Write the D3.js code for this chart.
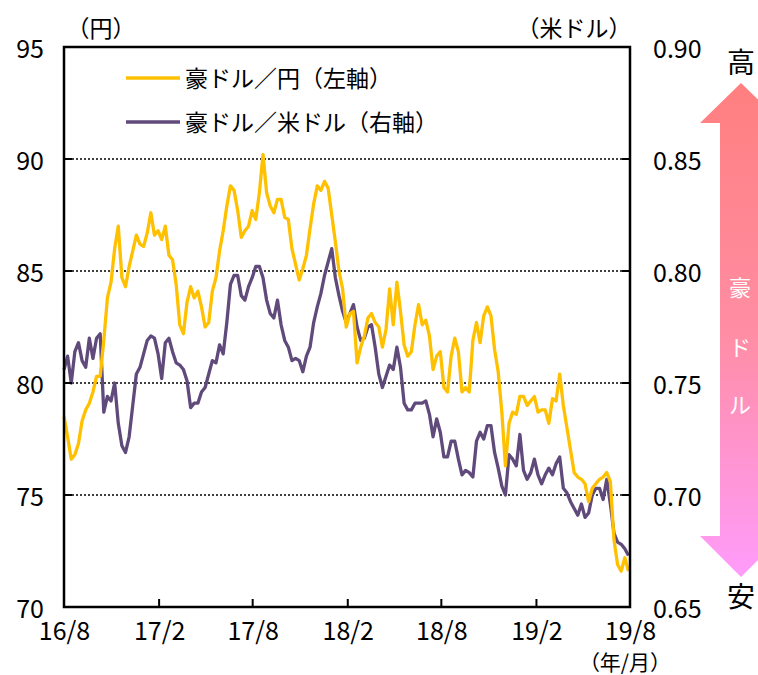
<!DOCTYPE html>
<html><head><meta charset="utf-8">
<script src="https://cdn.jsdelivr.net/npm/d3@7"></script>
<style>
body{margin:0;background:#fff;}
svg text{font-family:"Noto Sans CJK JP","Noto Sans",sans-serif;fill:#000;}
</style></head>
<body><svg id="c" width="758" height="675"></svg>
<script>
// weekly observations starting 2016-08-01
const startDate = "2016-08-01";
const audJpy = [78.5,77.6,76.6,76.8,77.3,78.3,78.8,79.1,79.6,80.3,
80.3,81.9,83.8,84.5,86.0,87.0,84.7,84.3,85.2,85.9,
86.6,86.2,86.1,86.7,87.6,86.6,86.8,86.4,87.0,85.7,
85.5,84.4,82.6,82.2,83.6,84.3,83.8,84.1,83.4,82.5,
82.7,84.1,84.7,85.9,86.8,87.9,88.8,88.6,87.7,86.5,
86.8,87.0,87.7,87.3,88.5,90.2,88.5,87.9,87.6,88.2,
88.2,87.4,87.3,86.0,85.3,84.6,85.1,85.7,86.9,88.0,
88.8,88.6,89.0,88.7,87.5,86.3,85.0,84.2,82.5,83.1,
83.2,80.9,81.6,82.1,82.9,83.1,82.7,82.5,81.6,82.4,
84.2,82.6,84.5,83.2,81.7,81.2,81.4,82.6,83.5,82.6,
82.8,82.1,80.6,81.2,81.4,79.8,79.6,81.2,82.0,81.4,
79.6,79.8,79.6,81.9,82.7,81.8,83.0,83.4,83.0,81.5,
80.5,78.7,76.3,78.2,78.7,78.6,79.4,79.4,79.0,79.2,
79.4,78.7,78.8,78.8,78.2,79.3,79.2,80.4,79.0,78.0,
77.0,76.0,75.8,75.7,75.5,74.7,75.3,75.5,75.7,75.8,
76.0,75.6,73.0,71.9,71.6,72.2,71.6];
const audUsd = [0.756,0.762,0.750,0.764,0.768,0.760,0.757,0.770,0.761,0.770,
0.772,0.737,0.744,0.742,0.750,0.732,0.722,0.719,0.726,0.740,
0.754,0.757,0.763,0.769,0.771,0.770,0.763,0.752,0.768,0.770,
0.764,0.759,0.758,0.756,0.751,0.739,0.741,0.741,0.746,0.748,
0.754,0.760,0.759,0.767,0.763,0.777,0.794,0.798,0.798,0.789,
0.787,0.793,0.797,0.802,0.802,0.797,0.787,0.781,0.779,0.787,
0.776,0.769,0.766,0.760,0.761,0.760,0.755,0.762,0.766,0.777,
0.784,0.790,0.798,0.804,0.810,0.797,0.789,0.782,0.777,0.781,
0.785,0.775,0.769,0.770,0.775,0.776,0.766,0.754,0.748,0.753,
0.758,0.756,0.766,0.757,0.741,0.738,0.738,0.741,0.741,0.741,
0.742,0.736,0.726,0.734,0.728,0.717,0.717,0.724,0.724,0.716,
0.709,0.711,0.710,0.708,0.724,0.728,0.725,0.731,0.731,0.719,
0.712,0.704,0.700,0.718,0.716,0.713,0.727,0.711,0.707,0.710,
0.716,0.709,0.705,0.709,0.712,0.709,0.714,0.717,0.703,0.701,
0.697,0.694,0.691,0.696,0.690,0.692,0.700,0.703,0.703,0.698,
0.707,0.696,0.683,0.679,0.678,0.676,0.673];
const xTickDates = ["2016-08-01","2017-02-01","2017-08-01","2018-02-01","2018-08-01","2019-02-01","2019-08-01"];
const leftTicks = [70,75,80,85,90,95];
const rightTicks = [0.65,0.70,0.75,0.80,0.85,0.90];
const gridTicks = [75,80,85,90];
const seriesNames = ["豪ドル／円（左軸）","豪ドル／米ドル（右軸）"];
const seriesColors = ["#FFC000","#604A7B"];
const arrowText = ["豪","ド","ル"];

const parse = d3.utcParse("%Y-%m-%d");
const t0 = parse(startDate);
const dates = audJpy.map((_, i) => d3.utcDay.offset(t0, 7 * i));

const L = 64, R = 630, T = 47, B = 607;
const svg = d3.select("#c");
const x = d3.scaleUtc().domain([parse(xTickDates[0]), parse(xTickDates[xTickDates.length-1])]).range([L, R]);
const yL = d3.scaleLinear().domain([70, 95]).range([B, T]);
const yR = d3.scaleLinear().domain([0.65, 0.90]).range([B, T]);

// gridlines
svg.append("g").selectAll("line").data(gridTicks).join("line")
  .attr("x1", L).attr("x2", R).attr("y1", d => yL(d)).attr("y2", d => yL(d))
  .attr("stroke", "#000").attr("stroke-width", 1.3).attr("stroke-dasharray", "2,2");

// lines
const lineJ = d3.line().x((d, i) => x(dates[i])).y(d => yL(d));
const lineU = d3.line().x((d, i) => x(dates[i])).y(d => yR(d));
svg.append("path").datum(audUsd).attr("d", lineU).attr("fill", "none")
  .attr("stroke", seriesColors[1]).attr("stroke-width", 3.3).attr("stroke-linejoin", "round");
svg.append("path").datum(audJpy).attr("d", lineJ).attr("fill", "none")
  .attr("stroke", seriesColors[0]).attr("stroke-width", 3.3).attr("stroke-linejoin", "round");

// frame
svg.append("rect").attr("x", L).attr("y", T).attr("width", R - L).attr("height", B - T)
  .attr("fill", "none").attr("stroke", "#000").attr("stroke-width", 2.5);

// inward ticks
svg.append("g").selectAll("line").data(leftTicks).join("line")
  .attr("x1", L).attr("x2", L + 8).attr("y1", d => yL(d)).attr("y2", d => yL(d))
  .attr("stroke", "#000").attr("stroke-width", 2);
svg.append("g").selectAll("line").data(rightTicks).join("line")
  .attr("x1", R - 8).attr("x2", R).attr("y1", d => yR(d)).attr("y2", d => yR(d))
  .attr("stroke", "#000").attr("stroke-width", 2);
svg.append("g").selectAll("line").data(xTickDates.map(parse)).join("line")
  .attr("x1", d => x(d)).attr("x2", d => x(d)).attr("y1", B).attr("y2", B - 8)
  .attr("stroke", "#000").attr("stroke-width", 2);

// axes labels
const axL = svg.append("g").attr("transform", `translate(${L},0)`)
  .call(d3.axisLeft(yL).tickValues(leftTicks).tickSize(0).tickPadding(20));
const axR = svg.append("g").attr("transform", `translate(${R},0)`)
  .call(d3.axisRight(yR).tickValues(rightTicks).tickFormat(d3.format(".2f")).tickSize(0).tickPadding(23));
const axB = svg.append("g").attr("transform", `translate(0,${B})`)
  .call(d3.axisBottom(x).tickValues(xTickDates.map(parse)).tickFormat(d3.utcFormat("%y/%-m")).tickSize(0).tickPadding(15));
[axL, axR, axB].forEach(a => {
  a.select(".domain").remove();
  a.selectAll("text").style("font-size", "25px").attr("fill", "#000");
});
axL.selectAll("text").attr("dy", "0.42em");
axR.selectAll("text").attr("dy", "0.42em");

// unit labels
svg.append("text").attr("x", 101).attr("y", 37).attr("text-anchor", "middle").style("font-size", "23px").text("（円）");
svg.append("text").attr("x", 574).attr("y", 37).attr("text-anchor", "middle").style("font-size", "23px").text("（米ドル）");
svg.append("text").attr("x", 625).attr("y", 670).attr("text-anchor", "middle").style("font-size", "21px").text("（年/月）");

// legend
const lg = svg.append("g");
seriesNames.forEach((n, i) => {
  const yy = 78 + i * 44;
  lg.append("line").attr("x1", 126).attr("x2", 180).attr("y1", yy).attr("y2", yy)
    .attr("stroke", seriesColors[i]).attr("stroke-width", 3.5);
  lg.append("text").attr("x", 185).attr("y", yy + 9).style("font-size", "23px").text(n);
});

// arrow
const defs = svg.append("defs");
const grad = defs.append("linearGradient").attr("id", "ag").attr("gradientUnits", "userSpaceOnUse")
  .attr("x1", 0).attr("x2", 0).attr("y1", 83).attr("y2", 577);
grad.append("stop").attr("offset", 0).attr("stop-color", "#FF7F7F");
grad.append("stop").attr("offset", 0.5).attr("stop-color", "#FF8DA3");
grad.append("stop").attr("offset", 1).attr("stop-color", "#FF9CFB");
const ax = 741;
const pts = [[ax,83],[ax+41,123],[ax+21,123],[ax+21,536],[ax+41,536],[ax,577],[ax-41,536],[ax-21,536],[ax-21,123],[ax-41,123]];
svg.append("path").attr("d", d3.line()(pts) + "Z").attr("fill", "url(#ag)");
arrowText.forEach((t, i) => {
  svg.append("text").attr("x", 740).attr("y", [288, 348, 405][i] + 8).attr("text-anchor", "middle")
    .style("font-size", "22px").style("fill", "#fff").text(t);
});
svg.append("text").attr("x", 741).attr("y", 73).attr("text-anchor", "middle").style("font-size", "28px").text("高");
svg.append("text").attr("x", 741).attr("y", 607).attr("text-anchor", "middle").style("font-size", "28px").text("安");
</script></body></html>
